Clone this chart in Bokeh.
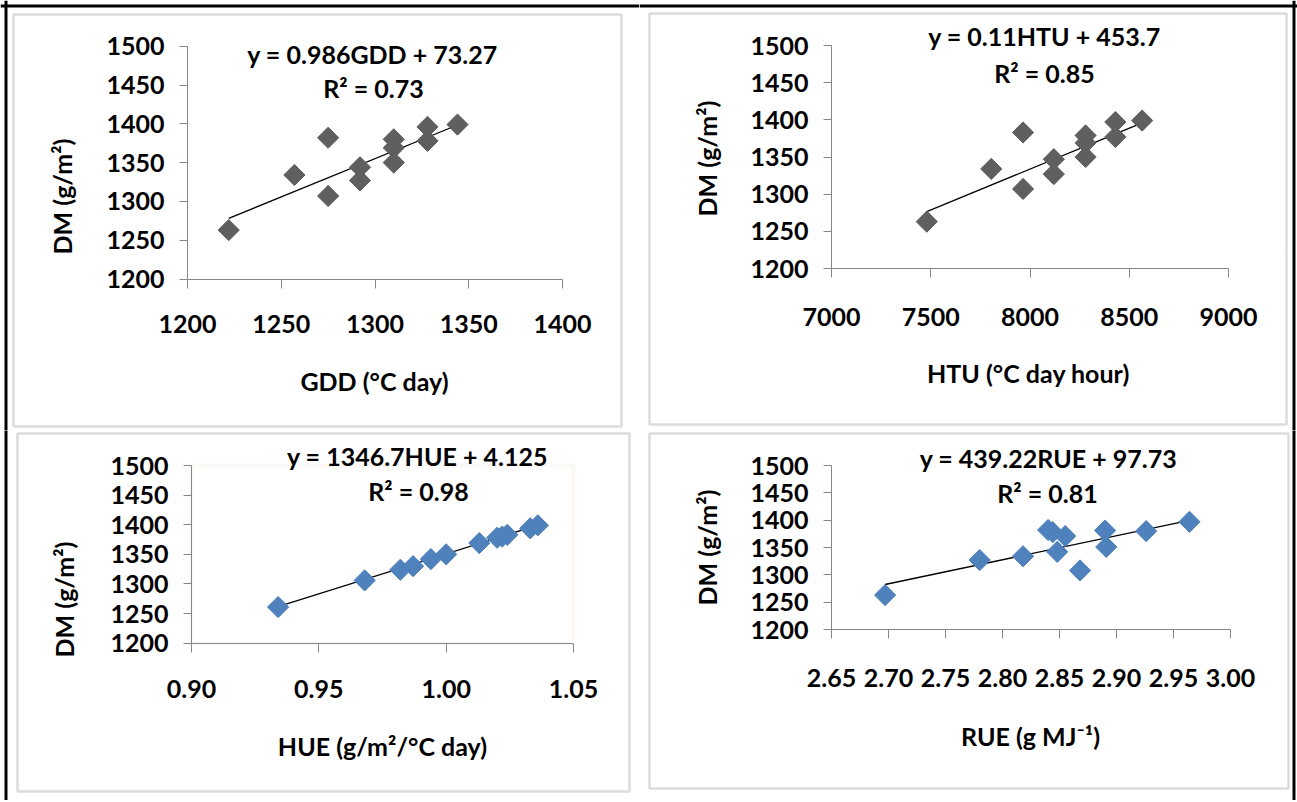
import numpy as np
from bokeh.plotting import figure
from bokeh.layouts import column, row
from bokeh.models import Range1d, FixedTicker, NumeralTickFormatter, Label, BoxAnnotation
from bokeh.embed import file_html
from bokeh.resources import INLINE

# ---------------- data ----------------
dm_ticks = [1200, 1250, 1300, 1350, 1400, 1450, 1500]

gdd = [1222, 1257, 1275, 1275, 1292, 1292, 1310, 1310, 1310, 1328, 1328, 1344]
dm_gdd = [1263, 1334, 1382, 1307, 1344, 1327, 1380, 1369, 1350, 1396, 1378, 1399]
gdd_ticks = [1200, 1250, 1300, 1350, 1400]
gdd_fit = [0.986, 73.27]

htu = [7480, 7805, 7965, 7965, 8120, 8120, 8280, 8280, 8280, 8430, 8430, 8565]
dm_htu = [1263, 1334, 1383, 1307, 1347, 1327, 1379, 1369, 1350, 1397, 1377, 1399]
htu_ticks = [7000, 7500, 8000, 8500, 9000]
htu_fit = [0.11, 453.7]

hue = [0.934, 0.968, 0.982, 0.987, 0.994, 1.000, 1.013, 1.020, 1.022, 1.024, 1.033, 1.036]
dm_hue = [1261, 1306, 1324, 1330, 1342, 1350, 1369, 1378, 1380, 1383, 1394, 1399]
hue_ticks = [0.90, 0.95, 1.00, 1.05]
hue_fit = [1346.7, 4.125]

rue = [2.697, 2.780, 2.818, 2.840, 2.844, 2.848, 2.855, 2.868, 2.890, 2.891, 2.926, 2.964]
dm_rue = [1263, 1327, 1334, 1382, 1378, 1342, 1371, 1308, 1381, 1351, 1380, 1397]
rue_ticks = [2.65, 2.70, 2.75, 2.80, 2.85, 2.90, 2.95, 3.00]
rue_fit = [439.22, 97.73]

FONT = "Lato"
FS = "25px"
GRAY = "#5f5f5f"
BLUE = "#4f81bd"
AXIS = "#868686"
BOX = "#8c8c8c"

PAGE_W = 1297
SPLIT_X = 639
ROW1_H = 430
ROW2_H = 370


def panel(xs, ys, xticks, fit, eq, r2, xtitle, color, fmt,
          origin, size, xpx, ypx, box, eqpos, r2pos, xtpos, ytpos,
          lab_standoff, lines, outline=None):
    ox, oy = origin
    w, h = size
    # map page pixel geometry of the axes to data ranges (frame == whole canvas)
    kx = (xticks[-1] - xticks[0]) / (xpx[1] - xpx[0])
    x_start = xticks[0] - (xpx[0] - ox) * kx
    x_end = xticks[0] + (ox + w - xpx[0]) * kx
    ky = (dm_ticks[-1] - dm_ticks[0]) / (ypx[0] - ypx[1])
    y_start = dm_ticks[0] - (oy + h - ypx[0]) * ky
    y_end = dm_ticks[0] + (ypx[0] - oy) * ky

    def sx(px):
        return px - ox

    def sy(py):
        return oy + h - py

    p = figure(width=w, height=h,
               x_range=Range1d(x_start, x_end), y_range=Range1d(y_start, y_end),
               output_backend="svg", toolbar_location=None, title=None,
               min_border=0)
    p.grid.visible = False
    p.background_fill_color = "white"
    p.border_fill_color = "white"
    p.outline_line_color = None

    if outline:
        p.add_layout(BoxAnnotation(left=xticks[0], right=xticks[-1],
                                   bottom=dm_ticks[0], top=dm_ticks[-1],
                                   fill_color=None, line_color=outline,
                                   line_width=4, level="underlay"))

    for ax in (p.xaxis[0], p.yaxis[0]):
        ax.axis_line_color = AXIS
        ax.major_tick_line_color = AXIS
        ax.minor_tick_line_color = None
        ax.major_tick_in = 0
        ax.major_label_text_font = FONT
        ax.major_label_text_font_style = "bold"
        ax.major_label_text_font_size = FS
        ax.major_label_text_color = "black"
    p.xaxis.fixed_location = dm_ticks[0]
    p.yaxis.fixed_location = xticks[0]
    p.xaxis.bounds = (xticks[0], xticks[-1])
    p.yaxis.bounds = (dm_ticks[0], dm_ticks[-1])
    p.xaxis.ticker = FixedTicker(ticks=xticks)
    p.yaxis.ticker = FixedTicker(ticks=dm_ticks)
    p.xaxis.major_tick_out = 9
    p.yaxis.major_tick_out = 8
    p.xaxis.major_label_standoff = lab_standoff
    p.yaxis.major_label_standoff = 15
    if fmt:
        p.xaxis.formatter = NumeralTickFormatter(format=fmt)

    # trend line and points
    x0, x1 = min(xs), max(xs)
    p.line([x0, x1], [fit[0] * x0 + fit[1], fit[0] * x1 + fit[1]],
           line_color="black", line_width=1.3)
    p.scatter(xs, ys, marker="square", size=15, angle=np.pi / 4,
              fill_color=color, line_color=color)

    def lab(txt, pos, angle=0.0):
        p.add_layout(Label(x=sx(pos[0]), y=sy(pos[1]), x_units="screen", y_units="screen",
                           text=txt, angle=angle,
                           text_font=FONT, text_font_style="bold",
                           text_font_size=FS, text_color="black",
                           text_align="center", text_baseline="middle"))

    lab(eq, eqpos)
    lab(r2, r2pos)
    lab(xtitle, xtpos)
    lab("DM (g/m²)", ytpos, np.pi / 2)

    # grey frame of the chart panel
    bl, bt, br, bb = box
    p.add_layout(BoxAnnotation(left=sx(bl), right=sx(br), top=sy(bt), bottom=sy(bb),
                               left_units="screen", right_units="screen",
                               top_units="screen", bottom_units="screen",
                               fill_color=None, line_color=BOX, line_width=2.5))
    # black page frame pieces
    for (l, t, r, b) in lines:
        p.add_layout(BoxAnnotation(left=sx(l), right=sx(r), top=sy(t), bottom=sy(b),
                                   left_units="screen", right_units="screen",
                                   top_units="screen", bottom_units="screen",
                                   fill_color="black", fill_alpha=1.0, line_color=None))
    return p


LEFT_LINE = (4, 0, 7, 802)
RIGHT_LINE = (1292, 0, 1295, 802)

p1 = panel(gdd, dm_gdd, gdd_ticks, gdd_fit, "y = 0.986GDD + 73.27", "R² = 0.73",
           "GDD (°C day)", GRAY, None,
           (0, 0), (SPLIT_X, ROW1_H), (187, 562), (278.5, 45.7),
           (13, 14, 621, 426), (372, 53), (373, 87), (374, 380), (61, 196),
           27, [(0, 4, SPLIT_X, 7), LEFT_LINE])
p2 = panel(htu, dm_htu, htu_ticks, htu_fit, "y = 0.11HTU + 453.7", "R² = 0.85",
           "HTU (°C day hour)", GRAY, None,
           (SPLIT_X, 0), (PAGE_W - SPLIT_X, ROW1_H), (831, 1228), (268, 45),
           (649, 13, 1286, 424), (1044, 35), (1044, 72), (1028, 372), (706, 158),
           30, [(SPLIT_X, 4, PAGE_W, 7), RIGHT_LINE])
p3 = panel(hue, dm_hue, hue_ticks, hue_fit, "y = 1346.7HUE + 4.125", "R² = 0.98",
           "HUE (g/m²/°C day)", BLUE, "0.00",
           (0, ROW1_H), (SPLIT_X, ROW2_H), (191, 573), (642.7, 465),
           (17, 433, 629, 791), (417, 455), (418, 490), (382, 745), (63, 599),
           28, [LEFT_LINE], outline="#eeece1")
p4 = panel(rue, dm_rue, rue_ticks, rue_fit, "y = 439.22RUE + 97.73", "R² = 0.81",
           "RUE (g MJ⁻¹)", BLUE, "0.00",
           (SPLIT_X, ROW1_H), (PAGE_W - SPLIT_X, ROW2_H), (831, 1230), (629, 465),
           (649, 433, 1288, 788), (1048, 457), (1047, 492), (1030, 735), (706, 547),
           30, [RIGHT_LINE])

layout = column(row(p1, p2), row(p3, p4))

open("out.html", "w").write(file_html(layout, INLINE))
